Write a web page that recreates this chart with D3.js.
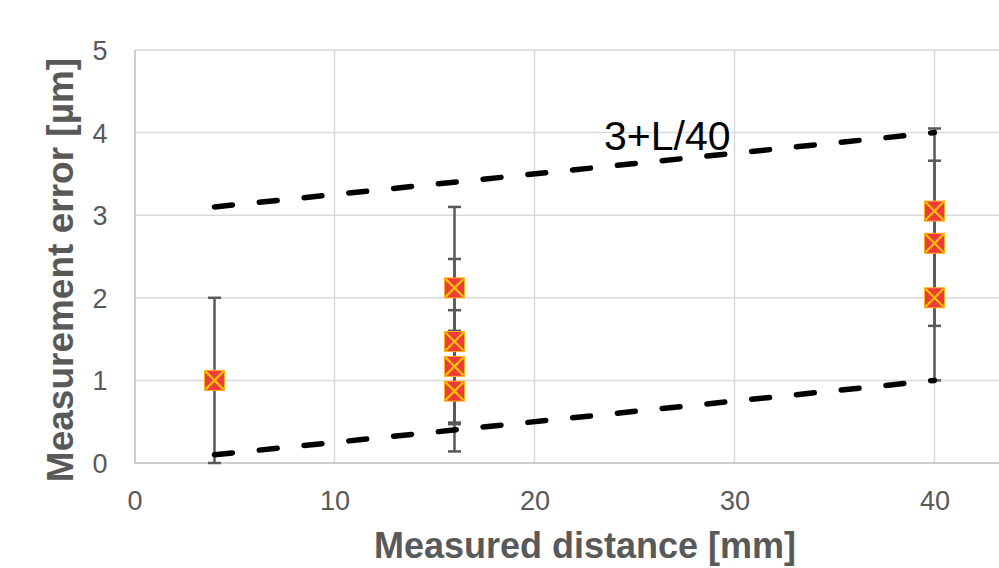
<!DOCTYPE html>
<html>
<head>
<meta charset="utf-8">
<script src="https://cdn.jsdelivr.net/npm/d3@7"></script>
<style>
  body { margin: 0; background: #fff; }
  svg { display: block; font-family: "Liberation Sans", Arial, sans-serif; }
</style>
</head>
<body>
<div id="chart"></div>
<script>
// ─── DATA ───────────────────────────────────────────────────────────────────────
const xTicks = [0, 10, 20, 30, 40];
const yTicks = [0, 1, 2, 3, 4, 5];

// measured points
const distances = [4, 16, 16, 16, 16, 40, 40, 40];
const errors    = [1.0, 2.12, 1.47, 1.17, 0.87, 3.05, 2.66, 2.0];
const errorBars = [1.0, 0.98, 1.0, 0.68, 0.73, 1.0, 1.0, 1.0];

// tolerance lines (3+L/40 and L/40)
const limitL     = [4, 40];
const upperLimit = [3.1, 4.0];
const lowerLimit = [0.1, 1.0];
const limitLabel = '3+L/40';

// ─── SIZE ───────────────────────────────────────────────────────────────────────
const W = 999, H = 568;
const margin = {left: 134.5, top: 50, bottom: 105};

const svg = d3.select('#chart').append('svg')
  .attr('width', W).attr('height', H);
svg.append('rect').attr('width', W).attr('height', H).attr('fill', '#fff');

// ─── SCALES ─────────────────────────────────────────────────────────────────────
const x = d3.scaleLinear().domain([0, 43.5]).range([margin.left, margin.left + 43.5 * 20]);
const y = d3.scaleLinear().domain([0, 5]).range([H - margin.bottom, margin.top]);

// ─── GRID ───────────────────────────────────────────────────────────────────────
const grid = svg.append('g').attr('stroke', '#d9d9d9').attr('stroke-width', 1.5);
grid.selectAll('.gy').data(yTicks.filter(d => d > 0)).join('line')
  .attr('x1', x(0)).attr('x2', W)
  .attr('y1', d => y(d)).attr('y2', d => y(d));
grid.selectAll('.gx').data(xTicks.filter(d => d > 0)).join('line')
  .attr('x1', d => x(d)).attr('x2', d => x(d))
  .attr('y1', y(0)).attr('y2', y(5));

// ─── AXES ───────────────────────────────────────────────────────────────────────
const xAxis = svg.append('g')
  .attr('transform', `translate(0,${y(0)})`)
  .call(d3.axisBottom(x).tickValues(xTicks).tickFormat(d3.format('d')).tickSize(0).tickPadding(28));
xAxis.select('.domain').attr('stroke', '#bfbfbf').attr('stroke-width', 1.5)
  .attr('d', `M${x(0)},0H${W}`);

const yAxis = svg.append('g')
  .attr('transform', `translate(${x(0)},0)`)
  .call(d3.axisLeft(y).tickValues(yTicks).tickFormat(d3.format('d')).tickSize(0).tickPadding(27));
yAxis.select('.domain').attr('stroke', '#bfbfbf').attr('stroke-width', 1.5);

svg.selectAll('.tick text')
  .attr('fill', '#595959')
  .style('font-size', '27px')
  .style('font-family', '"Liberation Sans", Arial, sans-serif');
yAxis.selectAll('.tick text').attr('dy', '0.35em');

// ─── ERROR BARS ─────────────────────────────────────────────────────────────────
const pts = distances.map((d, i) => ({x: d, y: errors[i], e: errorBars[i]}));
const eb = svg.append('g').attr('stroke', '#595959').attr('stroke-width', 2.5);
eb.selectAll('.stem').data(pts).join('line')
  .attr('x1', d => x(d.x)).attr('x2', d => x(d.x))
  .attr('y1', d => y(d.y - d.e)).attr('y2', d => y(d.y + d.e));
eb.selectAll('.capTop').data(pts).join('line')
  .attr('x1', d => x(d.x) - 6.5).attr('x2', d => x(d.x) + 6.5)
  .attr('y1', d => y(d.y + d.e)).attr('y2', d => y(d.y + d.e));
eb.selectAll('.capBot').data(pts).join('line')
  .attr('x1', d => x(d.x) - 6.5).attr('x2', d => x(d.x) + 6.5)
  .attr('y1', d => y(d.y - d.e)).attr('y2', d => y(d.y - d.e));

// ─── LIMIT LINES ────────────────────────────────────────────────────────────────
const line = d3.line().x(d => x(d[0])).y(d => y(d[1]));
[upperLimit, lowerLimit].forEach(vals => {
  svg.append('path')
    .attr('d', line(limitL.map((l, i) => [l, vals[i]])))
    .attr('fill', 'none')
    .attr('stroke', '#000')
    .attr('stroke-width', 5.5)
    .attr('stroke-linecap', 'round')
    .attr('stroke-dasharray', '18 27');
});

svg.append('text')
  .attr('x', 604).attr('y', 150)
  .style('font-size', '41px')
  .attr('fill', '#000')
  .text(limitLabel);

// ─── MARKERS ────────────────────────────────────────────────────────────────────
const s = 10;
const mk = svg.append('g').selectAll('g').data(pts).join('g')
  .attr('transform', d => `translate(${x(d.x)},${y(d.y)})`);
mk.append('rect')
  .attr('x', -s).attr('y', -s).attr('width', 2 * s).attr('height', 2 * s)
  .attr('fill', '#f03a3a').attr('stroke', '#ffb020').attr('stroke-width', 1);
mk.append('path')
  .attr('d', `M${-s + 1},${-s + 1}L${s - 1},${s - 1}M${s - 1},${-s + 1}L${-s + 1},${s - 1}`)
  .attr('stroke', '#ffc000').attr('stroke-width', 2.2);

// ─── AXIS TITLES ────────────────────────────────────────────────────────────────
svg.append('text')
  .attr('x', 585).attr('y', 558)
  .attr('text-anchor', 'middle')
  .attr('fill', '#595959')
  .style('font-size', '36px').style('font-weight', 'bold')
  .text('Measured distance [mm]');

svg.append('text')
  .attr('transform', `translate(73,270) rotate(-90)`)
  .attr('text-anchor', 'middle')
  .attr('fill', '#595959')
  .style('font-size', '37px').style('font-weight', 'bold')
  .text('Measurement error [µm]');
</script>
</body>
</html>
